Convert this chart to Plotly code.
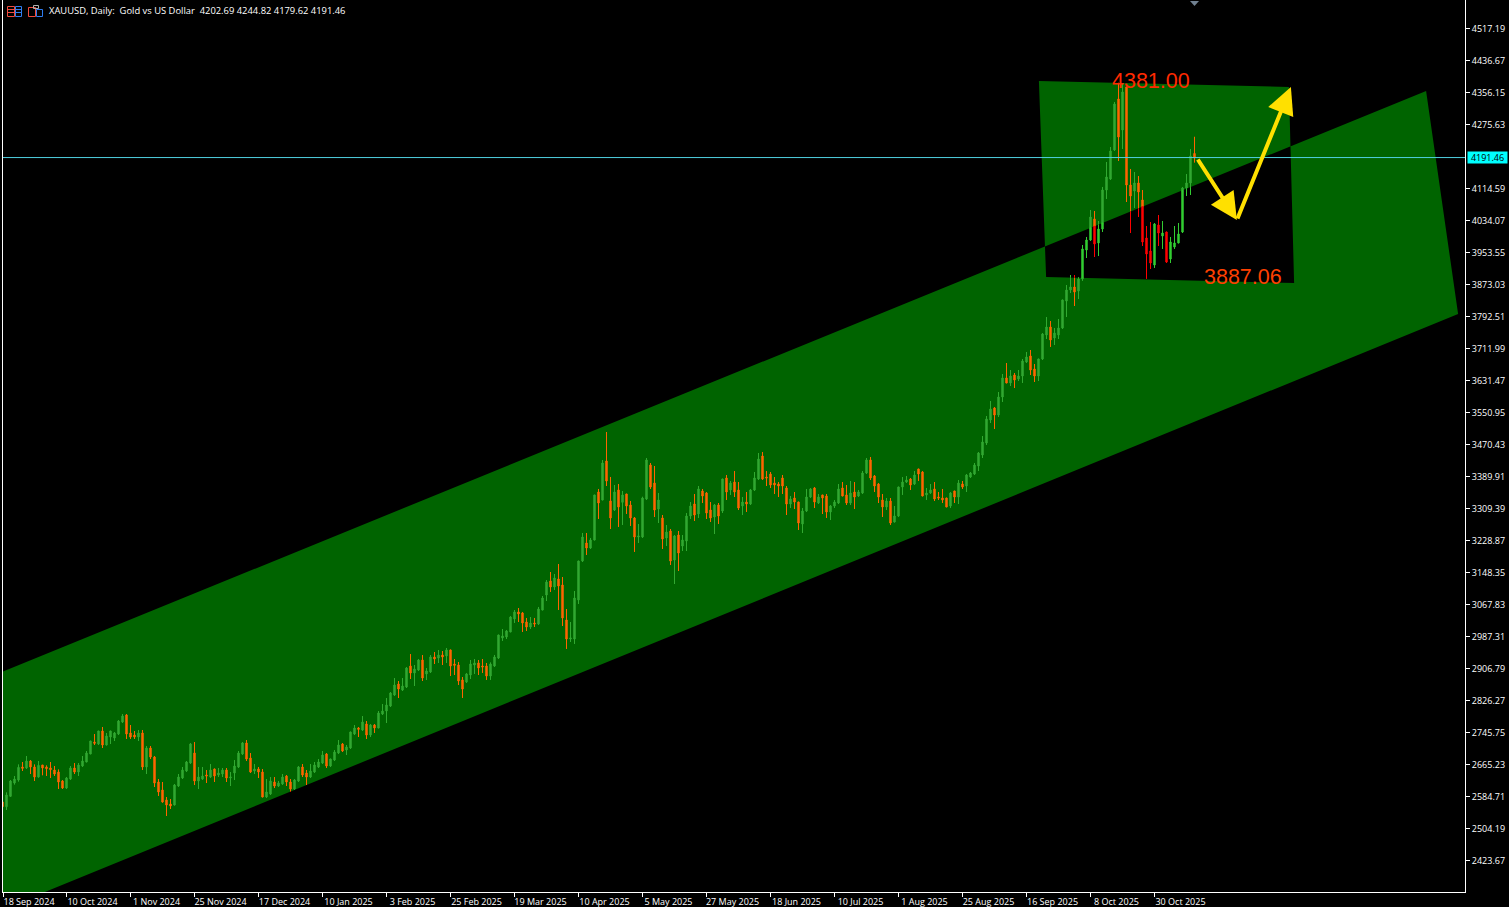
import plotly.graph_objects as go

# XAUUSD daily bars
opens = [
    2571,2559,2585.1,2618.7,2626.2,2659,2656.4,2674,2659,2633.8,
    2664,2659,2656.4,2651.4,2646.3,2623.7,2606.1,2628.7,2656.4,2646.3,
    2661.4,2671.5,2691.6,2721.8,2716.8,2749.5,2714.3,2734.4,2731.9,2742,
    2772.2,2789.8,2744.5,2739.4,2734.4,2744.5,2659,2706.7,2684.1,2621.2,
    2601,2575.9,2565.8,2563.3,2611.1,2631.2,2648.8,2669,2694.1,2623.7,
    2628.7,2638.8,2633.7,2653.9,2638.8,2641.3,2651.3,2631.2,2643.8,2658.9,
    2691.6,2719.3,2681.5,2648.8,2653.9,2646.3,2583.4,2591,2621.2,2611.1,
    2616.1,2636.2,2621.2,2603.5,2623.7,2658.9,2643.8,2633.7,2646.3,2658.9,
    2669,2691.6,2661.4,2676.5,2694.1,2716.8,2701.7,2706.7,2741.9,2757,
    2752,2767.1,2739.4,2764.6,2757,2792.3,2799.8,2812.4,2840.1,2867.7,
    2852.7,2860.2,2913,2895.4,2903,2928.1,2892.9,2898,2935.7,2933.2,
    2940.7,2938.3,2953.4,2918.1,2915.6,2877.9,2872.9,2890.4,2915.6,2920.7,
    2913.1,2913.1,2887.9,2913.1,2933.2,2983.6,2986.1,2998.7,3031.4,3049,
    3046.5,3023.8,3011.2,3021.3,3018.8,3054,3091.7,3127,3111.9,3132,
    3116.9,3028.8,2981,2981,3079.2,3177.3,3222.6,3210,3230.1,3350.9,
    3330.8,3428.9,3328.3,3305.6,3356,3324.9,3345.9,3318.2,3285.5,3237.7,
    3237.7,3333.3,3418.8,3373.5,3308.1,3285.5,3235.1,3252.8,3179.8,3242.7,
    3215,3227.6,3290.5,3320.7,3295.5,3353.4,3348.4,3305.6,3288,3318.2,
    3303.1,3386.1,3355.9,3376,3355.9,3315.7,3325.7,3320.7,3355.9,3383.6,
    3441.5,3388.6,3396.2,3373.5,3371,3386.1,3361,3320.7,3335.8,3325.7,
    3270.4,3303.1,3338.3,3361,3323.2,3343.4,3340.8,3300.6,3315.7,3323.2,
    3361,3343.4,3323.2,3350.9,3340.8,3348.4,3398.7,3431.4,3391.2,3371,
    3330.8,3313.2,3328.2,3275.4,3290.5,3363.5,3376,3383.6,3371,3408.8,
    3401.2,3343.4,3348.4,3358.5,3338.3,3335.8,3335.8,3315.7,3353.4,3338.3,
    3371,3366,3388.6,3396.2,3416.3,3444,3474.2,3532.1,3562.3,3544.6,
    3589.9,3637.8,3625.2,3645.3,3635.2,3642.8,3678,3693.1,3660.4,3642.8,
    3685.6,3746,3766.1,3738.4,3746,3763.6,3831.5,3859.2,3866.7,3856.7,
    3886.9,3959.8,3985,4037.9,3977.5,4012.7,4110.8,4138.5,4211.5,4339.8,
    4261.8,4370,4123.4,4108.3,4128.4,4085.7,3990,3957.3,3922.1,4022.7,
    3995,4005.1,3937.2,3967.4,3977.5,4005.1,4115.9,4128.4,4202.69,
]
highs = [
    2573,2595.2,2626.2,2636.3,2665.6,2671.5,2686.6,2676.5,2665.6,2674,
    2664,2663.1,2671.5,2661.4,2653,2626.2,2633.8,2661.4,2669,2669,
    2686.6,2699.2,2725,2742,2750,2759.6,2744.5,2750,2747,2777.2,
    2792.3,2792.3,2764.6,2749.5,2752,2752,2711.8,2711.8,2686.6,2628.7,
    2621.2,2583.4,2578.4,2616.1,2641.3,2658.9,2674,2719.3,2721.8,2658.9,
    2658.9,2651.3,2666.4,2655,2656.4,2656.4,2656.4,2646.3,2676.5,2699.2,
    2721.8,2726.8,2694.1,2666.4,2658.9,2653.9,2628.7,2633.7,2633.7,2623.7,
    2641.3,2638.8,2628.7,2628.7,2661.4,2666.4,2651.3,2666.4,2671.5,2679,
    2699.2,2694.1,2680,2701.7,2726.8,2719.3,2714.3,2748,2764.6,2759.5,
    2787.2,2774.6,2767.1,2767.1,2799.8,2817.4,2832.5,2847.6,2882.8,2875.3,
    2882.8,2910.5,2943.2,2915.6,2930.6,2940.7,2908,2940.7,2948.3,2953.3,
    2950.8,2958.4,2954.5,2930.7,2923.2,2885.4,2895.5,2928.2,2930.7,2928.2,
    2930.7,2920.7,2922.3,2940.8,2992,3006.2,3003.7,3038.9,3054,3059,
    3049,3033.9,3036.4,3033.9,3061.6,3089.2,3129.5,3149.6,3144.6,3169.7,
    3137,3056.5,3023.8,3101.8,3178,3247.8,3247.8,3235.2,3344,3358.5,
    3431.4,3501.9,3388.7,3368.5,3371,3353.4,3346.5,3328.3,3288,3270.4,
    3339,3436.4,3423.9,3416.3,3348.4,3293,3267.9,3257.8,3242.7,3252.8,
    3242.7,3298,3325.7,3345.9,3366,3358.5,3350.9,3325.7,3320.7,3323.2,
    3384.5,3393.7,3378.6,3403.7,3376,3338.3,3350.9,3358.5,3401.2,3449,
    3451.5,3403.7,3401.2,3388.6,3376,3393.7,3366,3340.8,3350.9,3326.5,
    3310.6,3358.5,3361,3363.5,3345.9,3344,3345.9,3318.2,3330.8,3371,
    3376,3368.5,3378.6,3376,3355.9,3403.7,3436.4,3439,3393.7,3373.5,
    3345.9,3335.8,3335.8,3315.7,3364.5,3388.6,3391.2,3386.1,3403.7,3409.5,
    3403.7,3361,3371,3376,3350.9,3358.5,3336.5,3350.9,3354,3381.1,
    3378.6,3396.2,3401.2,3423.9,3451.5,3491.8,3542.1,3579.9,3564.8,3602.5,
    3647.8,3675.5,3657.9,3650.3,3657.9,3685.6,3703.2,3708.2,3673,3686.5,
    3751,3791.2,3781.2,3763.6,3786.2,3835,3871.8,3896.9,3896.9,3891.9,
    3972.4,3992.6,4060.5,4058,4032.8,4118.4,4181.3,4219,4332.3,4381,
    4378,4371,4163.7,4156.1,4146,4110.8,4020.2,4030.3,4027.8,4047.9,
    4032.8,4006,3992.6,4020.2,4027.8,4118.4,4151,4214,4244.82,
]
lows = [
    2558,2550.7,2583.4,2614.5,2622,2648.9,2653.9,2641.3,2623.7,2632.1,
    2638,2636.3,2631.2,2636.3,2603.6,2603.6,2603.6,2626.2,2641.3,2636.3,
    2659,2670.7,2691,2714.3,2714.3,2706.7,2713,2716.8,2724.3,2739.4,
    2769.6,2729.4,2729.4,2729.4,2724.3,2651.4,2641.3,2679,2608.6,2586,
    2569,2535.6,2553.2,2562,2608.6,2628.7,2646.3,2666.5,2613.6,2603.5,
    2626.2,2618.6,2631.2,2621.2,2633.7,2633.7,2621.2,2611.1,2626.2,2656.4,
    2689.1,2674,2643.8,2641.3,2631.2,2582.5,2580.9,2588.4,2606,2608.6,
    2613.6,2611.1,2596,2601,2621.2,2633.7,2613.6,2631.2,2643.8,2656.4,
    2666.4,2656.4,2658.9,2674,2691.6,2696.6,2689.1,2704.2,2739.4,2734.4,
    2749.5,2729.3,2734.4,2744.5,2756,2789.7,2769.6,2809.9,2837.6,2832.5,
    2850.1,2857.7,2880.3,2862.7,2900.5,2875.3,2877.8,2895.4,2918.1,2920.6,
    2915.6,2920.7,2887.9,2890.4,2865.3,2832.6,2870.3,2880.4,2893,2890.4,
    2895.5,2877.9,2877.9,2910.6,2930.7,2976,2981,2998,3021.3,3023.8,
    2998.7,3001.2,3006.2,3011.2,3016.3,3053,3076.6,3099.3,3104.3,3054,
    3013.7,2955.9,2973.5,2968.5,3069.1,3174.8,3192.4,3207.5,3229,3283,
    3330,3366,3257.8,3303.1,3262.9,3267.9,3295.6,3265.4,3200,3222.6,
    3235.2,3330.8,3358.5,3288,3272.9,3207.5,3215,3167.2,3119.4,3152.1,
    3202.4,3202.4,3283,3277.9,3285.5,3323.2,3283,3275.4,3245.2,3270.4,
    3298,3330.8,3343.4,3338.3,3305.6,3293,3300.6,3318.2,3353.4,3381.1,
    3381.1,3366,3361,3345.9,3338.3,3345.9,3293,3310.6,3308.1,3255.3,
    3247.7,3300.6,3335.8,3310.6,3320.7,3295.5,3285.5,3280.4,3310.6,3320.7,
    3340,3318.2,3318.2,3308.1,3338.3,3345.9,3396.2,3381.1,3350.9,3323.2,
    3288,3305.6,3267.9,3274,3288,3343.4,3373.5,3355.9,3368.5,3378.6,
    3340,3330.8,3345.9,3328.2,3330.8,3323.2,3312.5,3310.6,3323.2,3320.7,
    3358.5,3350.9,3386.1,3393.7,3403.7,3436.4,3469.2,3524.5,3509.4,3539.6,
    3577.4,3624.5,3617.6,3612.6,3630.2,3625.2,3675.5,3645.3,3627.7,3630.2,
    3683,3735.9,3715.8,3720.8,3735.9,3761.1,3791.2,3851.6,3818.9,3836.5,
    3881.9,3939.7,3982.5,3942.2,3944.7,4005.1,4088.2,4136,4209,4183.8,
    4214,4080.6,4002.6,4065.5,4042.9,3969.9,3887.06,3912,3914.6,3969.9,
    3962.4,3927.1,3927.1,3962.4,3976.5,4002.6,4095.7,4098.2,4179.62,
]
closes = [
    2559,2588.5,2623.7,2628.7,2658.1,2655.6,2674,2659,2633.8,2663.1,
    2656.4,2654.7,2652.2,2641.3,2621.2,2606.1,2631.2,2656.4,2646.3,2664,
    2674,2694.1,2724.3,2718.5,2749.5,2714.3,2736.9,2749.5,2744.5,2774.7,
    2787.2,2742,2734.4,2734.4,2744.5,2659,2706.7,2684.1,2618.7,2596,
    2570.8,2563.3,2560.8,2613.6,2633.8,2651.3,2671.5,2716.8,2623.7,2633.7,
    2636.2,2636.2,2651.3,2636.2,2643.8,2651.3,2631.2,2633.7,2661.4,2694.1,
    2719.3,2679,2646.3,2653.9,2646.3,2583.4,2596,2623.7,2611.1,2618.6,
    2633.7,2621.2,2603.5,2626.2,2658.9,2638.8,2633.7,2648.8,2664,2671.5,
    2689.1,2661.4,2679,2696.6,2714.3,2699.2,2709.2,2747,2757,2753.7,
    2772.1,2739.4,2764.6,2757,2794.8,2799.8,2814.9,2845.1,2865.2,2855.2,
    2862.7,2908,2895.4,2905.5,2928.1,2882.8,2900.5,2935.7,2930.7,2940.7,
    2935.7,2953.4,2913.1,2914.8,2875.4,2855.2,2893,2918.1,2920.7,2908.1,
    2910.6,2887.9,2918.1,2935.7,2991.1,2988.6,3001.2,3036.4,3049,3044,
    3021.3,3011.2,3021.3,3018.8,3056.5,3084.2,3124.5,3111.9,3134.5,3114.4,
    3033.9,2981,2983.6,3084.2,3177.3,3237.7,3210,3230.1,3343.4,3323.2,
    3423.9,3378.6,3285.5,3350.9,3313.2,3343.4,3315.7,3285.5,3237.7,3240.2,
    3335.8,3431.4,3363.5,3305.6,3330.8,3232.6,3250.2,3177.3,3240.2,3197.4,
    3230.1,3290.5,3315.7,3293,3358.5,3340.8,3298,3285.5,3318.2,3290.5,
    3383.6,3350.9,3373.5,3350.9,3310.6,3325.7,3320.7,3355.9,3386.1,3433.9,
    3383.6,3386.1,3368.5,3368.5,3366,3366,3320.7,3333.3,3325.7,3272.9,
    3303.1,3338.3,3358.5,3325.7,3338.3,3335.8,3300.6,3315.7,3325.7,3358.5,
    3340.8,3323.2,3348.4,3338.3,3350.9,3398.7,3431.4,3386.1,3366,3338.3,
    3313.2,3328.2,3272.9,3290.5,3363.5,3376,3381.1,3368.5,3393.7,3396.2,
    3340.8,3348.4,3355.9,3333.3,3335.8,3330.8,3313.2,3348.4,3338.3,3373.5,
    3363.5,3393.7,3398.7,3418.8,3449,3476.7,3534.6,3559.7,3544.6,3589.9,
    3637.8,3625.2,3642.8,3632.7,3642.8,3680.5,3690.6,3657.9,3642.8,3685.6,
    3748.5,3766.1,3733.4,3751,3763.6,3834,3859.2,3866.7,3854.2,3886.9,
    3962.4,3985,4042.9,3975,4012.7,4110.8,4143.5,4209,4327.2,4244.2,
    4357.4,4123.4,4095.7,4128.4,4105.8,3980,3949.8,3927.1,4025.3,4002.6,
    4002.6,3929.6,3980,3977.5,4000.1,4115.9,4128.4,4196.4,4191.46,
]

# axis labels
date_labels = ["18 Sep 2024", "10 Oct 2024", "1 Nov 2024", "25 Nov 2024", "17 Dec 2024",
               "10 Jan 2025", "3 Feb 2025", "25 Feb 2025", "19 Mar 2025", "10 Apr 2025",
               "5 May 2025", "27 May 2025", "18 Jun 2025", "10 Jul 2025", "1 Aug 2025",
               "25 Aug 2025", "16 Sep 2025", "8 Oct 2025", "30 Oct 2025"]
# first bar sits half a pixel left of the frame, so its tick is nudged inside
date_bars = [0.125] + [16 * k for k in range(1, len(date_labels))]
price_ticks = [4517.19, 4436.67, 4356.15, 4275.63, 4114.59, 4034.07, 3953.55, 3873.03, 3792.51,
               3711.99, 3631.47, 3550.95, 3470.43, 3389.91, 3309.39, 3228.87, 3148.35, 3067.83,
               2987.31, 2906.79, 2826.27, 2745.75, 2665.23, 2584.71, 2504.19, 2423.67]

# drawn objects on the chart, in bar number / price
channel_x = [-0.125, 355.9, 363.9, 10.6, -0.125]
channel_y = [2898, 4360, 3798.8, 2344.4, 2344.4]
box_x = [259.1, 260.9, 322.9, 321.6]
box_y = [4385.1, 3891.9, 3876.8, 4370]
arrow_x = [298.6, 308.6, 322.1]
arrow_y = [4191.3, 4035.3, 4370]

last_price = 4191.46
high_label = 4381.00
low_label = 3887.06

GREEN = "#006400"
YELLOW = "#FFE000"
# the terminal XORs everything on top of the green fill
COLORS = {(True, True): "rgb(50,169,50)", (True, False): "rgb(255,100,0)",
          (False, True): "rgb(50,205,50)", (False, False): "rgb(255,0,0)"}
FONT = "Open Sans"

channel = list(zip(channel_x, channel_y))
box = list(zip(box_x, box_y))


def inside(poly, x, y):
    hit = False
    for (x0, y0), (x1, y1) in zip(poly, poly[1:] + poly[:1]):
        if (x0 > x) != (x1 > x) and y < y0 + (x - x0) * (y1 - y0) / (x1 - x0):
            hit = not hit
    return hit


def on_green(x, y):
    return inside(channel, x, y) != inside(box, x, y)


def crossings(x, lo, hi):
    cuts = [lo, hi]
    for poly in (channel, box):
        for (x0, y0), (x1, y1) in zip(poly, poly[1:] + poly[:1]):
            if (x0 > x) != (x1 > x):
                y = y0 + (x - x0) * (y1 - y0) / (x1 - x0)
                if lo < y < hi:
                    cuts.append(y)
    return sorted(cuts)


def subpath(poly):
    return "M" + " L".join(f"{x},{y}" for x, y in poly) + " Z"


# cut every bar where it crosses an edge of the fill so each part gets its own colour
bars = {True: ([], [], [], [], []), False: ([], [], [], [], [])}
wicks = {key: ([], []) for key in COLORS}
for i, (o, h, l, c) in enumerate(zip(opens, highs, lows, closes)):
    up = c >= o
    cuts = crossings(i, l, h)
    for lo, hi in zip(cuts, cuts[1:]):
        green = on_green(i, (lo + hi) / 2)
        body_lo, body_hi = max(lo, min(o, c)), min(hi, max(o, c))
        if body_lo < body_hi:
            piece = (body_lo, body_hi) if up else (body_hi, body_lo)
            for col, val in zip(bars[green], (i, piece[0], hi, lo, piece[1])):
                col.append(val)
        else:
            wx, wy = wicks[(green, up)]
            wx += [i, i, None]
            wy += [lo, hi, None]

fig = go.Figure()

# one path with even-odd fill: where channel and box overlap stays black
fig.add_shape(type="path", xref="x", yref="y", layer="below", line_width=0, fillcolor=GREEN,
              fillrule="evenodd", path=subpath(channel) + " " + subpath(box))

for green in (True, False):
    x, o, h, l, c = bars[green]
    fig.add_trace(go.Candlestick(
        x=x, open=o, high=h, low=l, close=c, whiskerwidth=0,
        increasing=dict(line=dict(color=COLORS[(green, True)], width=1), fillcolor=COLORS[(green, True)]),
        decreasing=dict(line=dict(color=COLORS[(green, False)], width=1), fillcolor=COLORS[(green, False)]),
    ))
for key, (wx, wy) in wicks.items():
    fig.add_trace(go.Scatter(x=wx, y=wy, mode="lines", line=dict(color=COLORS[key], width=1)))

# +1 puts the line on a whole pixel row
fig.add_hline(y=last_price + 1, line=dict(color="#4fd0e0", width=1))

for k in (0, 1):
    fig.add_annotation(x=arrow_x[k + 1], y=arrow_y[k + 1], ax=arrow_x[k], ay=arrow_y[k],
                       xref="x", yref="y", axref="x", ayref="y", text="", showarrow=True,
                       arrowhead=2, arrowsize=1.35, arrowwidth=4, arrowcolor=YELLOW)

fig.add_annotation(x=287, y=high_label, yshift=2, text=f"{high_label:.2f}", showarrow=False,
                   font=dict(family="Liberation Sans", size=21.5, color="#FF2A00"))
fig.add_annotation(x=310, y=low_label, yshift=2, text=f"{low_label:.2f}", showarrow=False,
                   font=dict(family="Liberation Sans", size=21.5, color="#FF4000"))

# current price tag on the scale
fig.add_annotation(xref="paper", x=1, xanchor="left", xshift=2, y=last_price, text=f"{last_price:.2f}",
                   showarrow=False, bgcolor="#00FFFF", width=39, height=11, borderpad=0,
                   font=dict(family=FONT, size=9, color="black"))

# header line
fig.add_annotation(xref="paper", yref="paper", x=44 / 1462, y=1 - 11 / 892, xanchor="left", yanchor="middle",
                   text="XAUUSD, Daily:  Gold vs US Dollar  4202.69 4244.82 4179.62 4191.46",
                   showarrow=False, font=dict(family=FONT, size=9.4, color="white"))


# small toolbar icons and the chart-shift marker, placed in page pixels
def xp(px):
    return (px - 3) / 1462


def yp(py):
    return 1 - py / 892


def icon_rect(x0, y0, x1, y1, color):
    fig.add_shape(type="rect", xref="paper", yref="paper", x0=xp(x0), x1=xp(x1), y0=yp(y0), y1=yp(y1),
                  line=dict(color=color, width=1))


def icon_line(x0, y0, x1, y1, color):
    fig.add_shape(type="line", xref="paper", yref="paper", x0=xp(x0), x1=xp(x1), y0=yp(y0), y1=yp(y1),
                  line=dict(color=color, width=1))


RED_ICON, BLUE_ICON = "#F04A3C", "#2F7DF0"
icon_rect(7.5, 6.5, 14.5, 16.5, RED_ICON)
icon_rect(15.5, 6.5, 21.5, 16.5, BLUE_ICON)
for ypx in (9.5, 12.5):
    icon_line(8, ypx, 14, ypx, RED_ICON)
    icon_line(16, ypx, 21, ypx, BLUE_ICON)
icon_rect(28.5, 7.5, 35.5, 16.5, RED_ICON)
icon_rect(36.5, 9.5, 42.5, 16.5, BLUE_ICON)
icon_rect(33.5, 5.5, 38.5, 8.5, "#B0B0B0")
fig.add_shape(type="path", xref="paper", yref="paper", line_width=0, fillcolor="#708090",
              path=f"M{xp(1190)},{yp(1)} L{xp(1199)},{yp(1)} L{xp(1194.5)},{yp(6)} Z")

fig.update_layout(
    width=1509, height=907, autosize=False,
    margin=dict(l=3, r=44, t=0, b=15, pad=0),
    paper_bgcolor="black", plot_bgcolor="black",
    showlegend=False, hovermode=False, boxgap=0.5,
    font=dict(family=FONT, size=9, color="white"),
)
fig.update_xaxes(
    type="linear", range=[0.125, 365.625], rangeslider_visible=False, automargin=False,
    tickmode="array", tickvals=date_bars, ticktext=date_labels, ticklabelshift=26, ticklabelstandoff=-3,
    ticks="outside", ticklen=4, tickcolor="white", tickfont=dict(family=FONT, size=9, color="white"),
    showgrid=False, zeroline=False, showline=True, linecolor="white", linewidth=1, mirror=True,
)
fig.update_yaxes(
    range=[2344.4, 4588.9], side="right", automargin=False,
    tickmode="array", tickvals=price_ticks, ticktext=[f"{v:.2f}" for v in price_ticks],
    ticks="outside", ticklen=4, tickcolor="white", tickfont=dict(family=FONT, size=9, color="white"),
    showgrid=False, zeroline=False, showline=True, linecolor="white", linewidth=1, mirror=True,
)

fig.write_html("out.html", config={"displayModeBar": False},
               post_script="document.body.style.margin='0';document.body.style.background='#000';")
